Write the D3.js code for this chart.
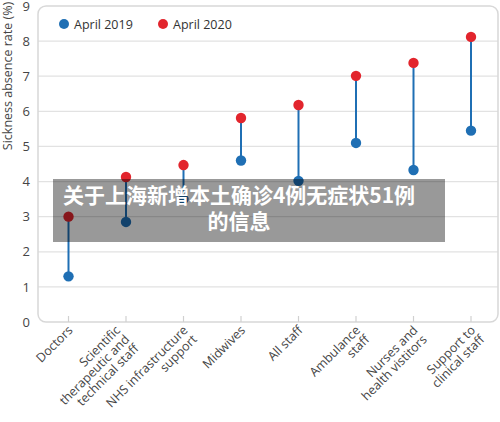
<!DOCTYPE html>
<html>
<head>
<meta charset="utf-8">
<script src="https://cdn.jsdelivr.net/npm/d3@7"></script>
<style>
  html, body { margin: 0; padding: 0; background: #fff; }
  svg { display: block; }
</style>
</head>
<body>
<svg id="chart" width="500" height="422"></svg>
<script>
const categories = [
  "Doctors",
  "Scientific\ntherapeutic and\ntechnical staff",
  "NHS infrastructure\nsupport",
  "Midwives",
  "All staff",
  "Ambulance\nstaff",
  "Nurses and\nhealth vistitors",
  "Support to\nclinical staff"
];
const values2019 = [1.3, 2.85, 3.5, 4.6, 4.02, 5.1, 4.33, 5.45];
const values2020 = [3.0, 4.13, 4.47, 5.81, 6.18, 7.01, 7.38, 8.12];
const seriesNames = ["April 2019", "April 2020"];
const yTicks = [0, 1, 2, 3, 4, 5, 6, 7, 8, 9];
const yTitle = "Sickness absence rate (%)";
const overlayLines = ["关于上海新增本土确诊4例无症状51例", "的信息"];

(function () {
const blue = "#1f6fb4";
const red = "#e2252d";
const textCol = "#454545";
const font = "'Open Sans', 'Noto Sans', sans-serif";

const svg = d3.select("#chart");
const pLeft = 38, pRight = 498, pTop = 6, pBottom = 322;

const x = d3.scalePoint().domain(categories).range([68.5, 471]);
const y = d3.scaleLinear().domain([0, 9]).range([pBottom, pTop]);

// gridlines
svg.append("g").selectAll("line").data(yTicks.filter(d => d > 0 && d < 9)).join("line")
  .attr("x1", pLeft).attr("x2", pRight)
  .attr("y1", d => y(d)).attr("y2", d => y(d))
  .attr("stroke", "#e2e2e2").attr("stroke-width", 1.2);

// frame
svg.append("rect")
  .attr("x", pLeft).attr("y", pTop).attr("width", pRight - pLeft).attr("height", pBottom - pTop)
  .attr("rx", 8).attr("ry", 8)
  .attr("fill", "none").attr("stroke", "#d8d8d8").attr("stroke-width", 1.5);

// x ticks (inward)
svg.append("g").selectAll("line").data(categories).join("line")
  .attr("x1", d => x(d)).attr("x2", d => x(d))
  .attr("y1", pBottom).attr("y2", pBottom - 6)
  .attr("stroke", "#d0d0d0").attr("stroke-width", 1.2);

// y tick labels
svg.append("g").selectAll("text").data(yTicks).join("text")
  .attr("x", 30).attr("y", d => y(d)).attr("dy", "0.36em")
  .attr("text-anchor", "end")
  .attr("font-family", font).attr("font-size", 13).attr("fill", textCol)
  .text(d => d);

// y title
svg.append("text")
  .attr("transform", "translate(12,76) rotate(-90)")
  .attr("text-anchor", "middle")
  .attr("font-family", font).attr("font-size", 12.5).attr("fill", textCol)
  .text(yTitle);

// x labels
const xl = svg.append("g").selectAll("g").data(categories).join("g")
  .attr("transform", d => {
    const n = d.split("\n").length;
    const shift = n > 2 ? -10 * (n - 2) : 0;
    return `translate(${x(d) + 5 + shift},331) rotate(-45)`;
  });
xl.append("text")
  .attr("text-anchor", "end")
  .attr("font-family", font).attr("font-size", 12.5).attr("fill", textCol)
  .selectAll("tspan").data(d => d.split("\n")).join("tspan")
  .attr("x", 0).attr("dy", (d, i) => i === 0 ? 0 : 13)
  .text(d => d);

// stems
const data = categories.map((c, i) => ({ c, a: values2019[i], b: values2020[i] }));
svg.append("g").selectAll("line").data(data).join("line")
  .attr("x1", d => x(d.c)).attr("x2", d => x(d.c))
  .attr("y1", d => y(d.a)).attr("y2", d => y(d.b))
  .attr("stroke", blue).attr("stroke-width", 2);

svg.append("g").selectAll("circle").data(data).join("circle")
  .attr("cx", d => x(d.c)).attr("cy", d => y(d.a)).attr("r", 5.2).attr("fill", blue);
svg.append("g").selectAll("circle").data(data).join("circle")
  .attr("cx", d => x(d.c)).attr("cy", d => y(d.b)).attr("r", 5.2).attr("fill", red);

// legend
const legend = svg.append("g").selectAll("g").data(seriesNames).join("g")
  .attr("transform", (d, i) => `translate(${i === 0 ? 64 : 163},24)`);
legend.append("circle").attr("r", 5).attr("fill", (d, i) => i === 0 ? blue : red);
legend.append("text").attr("x", 10).attr("dy", "0.36em")
  .attr("font-family", font).attr("font-size", 12.5).attr("fill", "#333")
  .text(d => d);

// overlay
svg.append("rect").attr("x", 53).attr("y", 179).attr("width", 392).attr("height", 63)
  .attr("fill", "rgba(0,0,0,0.4)");
svg.append("g").selectAll("text").data(overlayLines).join("text")
  .attr("x", 239).attr("y", (d, i) => 203 + i * 26)
  .attr("text-anchor", "middle")
  .attr("font-family", "'Noto Sans CJK SC', sans-serif").attr("font-weight", "bold")
  .attr("font-size", 21).attr("fill", "#fff")
  .text(d => d);
})();
</script>
</body>
</html>
